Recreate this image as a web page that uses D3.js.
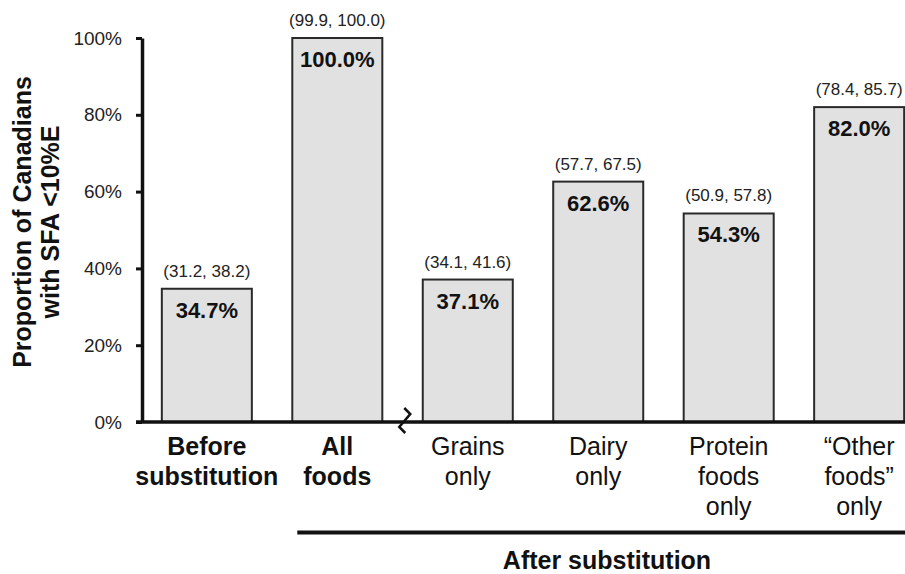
<!DOCTYPE html>
<html>
<head>
<meta charset="utf-8">
<script src="https://cdn.jsdelivr.net/npm/d3@7"></script>
<style>
  body { margin: 0; background: #fff; }
  svg { font-family: "Liberation Sans", Arial, sans-serif; }
</style>
</head>
<body>
<div class="chart"></div>
<script>
var categories = ["Before substitution", "All foods", "Grains only", "Dairy only", "Protein foods only", "“Other foods” only"];
var labelLines = [["Before", "substitution"], ["All", "foods"], ["Grains", "only"], ["Dairy", "only"], ["Protein", "foods", "only"], ["“Other", "foods”", "only"]];
var values = [34.7, 100.0, 37.1, 62.6, 54.3, 82.0];
var ciLow = [31.2, 99.9, 34.1, 57.7, 50.9, 78.4];
var ciHigh = [38.2, 100.0, 41.6, 67.5, 57.8, 85.7];
var yTicks = [0, 20, 40, 60, 80, 100];

var svgWidth = 905;
var svgHeight = 574;

var svg = d3.select(".chart")
  .append("svg")
  .attr("width", svgWidth)
  .attr("height", svgHeight);

var axisX = 142;
var baseY = 422;

var x = d3.scaleBand()
  .domain(categories)
  .range([axisX, 924])
  .paddingInner(0.31)
  .paddingOuter(0.152);

var y = d3.scaleLinear()
  .domain([0, 100])
  .range([baseY, 38]);

var data = categories.map(function(c, i) {
  return { cat: c, value: values[i], lo: ciLow[i], hi: ciHigh[i], lines: labelLines[i], bold: i < 2 };
});

// bars
svg.selectAll("rect.bar")
  .data(data)
  .enter()
  .append("rect")
  .attr("class", "bar")
  .attr("x", d => x(d.cat))
  .attr("y", d => y(d.value))
  .attr("width", x.bandwidth())
  .attr("height", d => baseY - y(d.value))
  .attr("fill", "#e1e1e1")
  .attr("stroke", "#2a2a2a")
  .attr("stroke-width", 2);

// value labels inside bars
svg.selectAll("text.val")
  .data(data)
  .enter()
  .append("text")
  .attr("x", d => x(d.cat) + x.bandwidth() / 2)
  .attr("y", d => y(d.value) + 29)
  .attr("text-anchor", "middle")
  .attr("font-size", "22px")
  .attr("font-weight", "bold")
  .attr("fill", "#111")
  .text(d => d.value.toFixed(1) + "%");

// confidence intervals above bars
svg.selectAll("text.ci")
  .data(data)
  .enter()
  .append("text")
  .attr("x", d => x(d.cat) + x.bandwidth() / 2)
  .attr("y", d => y(d.value) - 12)
  .attr("text-anchor", "middle")
  .attr("font-size", "17px")
  .attr("fill", "#222")
  .text(d => "(" + d.lo.toFixed(1) + ", " + d.hi.toFixed(1) + ")");

// y axis
var leftAxis = d3.axisLeft(y)
  .tickValues(yTicks)
  .tickFormat(d => d + "%")
  .tickSize(6)
  .tickSizeOuter(0)
  .tickPadding(14);

var yAxis = svg.append("g")
  .attr("transform", `translate(${axisX}, 0)`)
  .call(leftAxis);

yAxis.select(".domain").attr("stroke", "#111").attr("stroke-width", 3.5);
yAxis.selectAll(".tick line").attr("stroke", "#111").attr("stroke-width", 3);
yAxis.selectAll(".tick text")
  .attr("font-size", "19px")
  .attr("font-family", "Liberation Sans, Arial, sans-serif")
  .attr("fill", "#222");

// baseline
svg.append("line")
  .attr("x1", axisX - 6)
  .attr("x2", svgWidth)
  .attr("y1", baseY)
  .attr("y2", baseY)
  .attr("stroke", "#111")
  .attr("stroke-width", 3.5);

// axis break marker between "All foods" and the rest
var bx = x(categories[2]) - 18;
svg.append("path")
  .attr("d", `M${bx - 0.5},${baseY - 14} L${bx + 5.5},${baseY - 8} L${bx - 5.5},${baseY + 5} L${bx + 0.5},${baseY + 11}`)
  .attr("fill", "none")
  .attr("stroke", "#111")
  .attr("stroke-width", 2.5);

// category labels
var catLabels = svg.selectAll("text.cat")
  .data(data)
  .enter()
  .append("text")
  .attr("text-anchor", "middle")
  .attr("font-size", "25px")
  .attr("font-weight", d => d.bold ? "bold" : "normal")
  .attr("fill", "#111");

catLabels.each(function(d) {
  var t = d3.select(this);
  d.lines.forEach(function(line, j) {
    t.append("tspan")
      .attr("x", x(d.cat) + x.bandwidth() / 2)
      .attr("y", 455 + j * 30)
      .text(line);
  });
});

// "After substitution" bracket
svg.append("line")
  .attr("x1", x(categories[1]) + 5)
  .attr("x2", svgWidth)
  .attr("y1", 532.5)
  .attr("y2", 532.5)
  .attr("stroke", "#111")
  .attr("stroke-width", 4);

svg.append("text")
  .attr("x", 607)
  .attr("y", 569)
  .attr("text-anchor", "middle")
  .attr("font-size", "25px")
  .attr("font-weight", "bold")
  .attr("fill", "#111")
  .text("After substitution");

// y axis title
svg.append("text")
  .attr("transform", "translate(31, 222) rotate(-90)")
  .attr("text-anchor", "middle")
  .attr("font-size", "25px")
  .attr("font-weight", "bold")
  .attr("fill", "#111")
  .selectAll("tspan")
  .data(["Proportion of Canadians", "with SFA <10%E"])
  .enter()
  .append("tspan")
  .attr("x", 0)
  .attr("y", (d, i) => i * 28)
  .text(d => d);
</script>
</body>
</html>
